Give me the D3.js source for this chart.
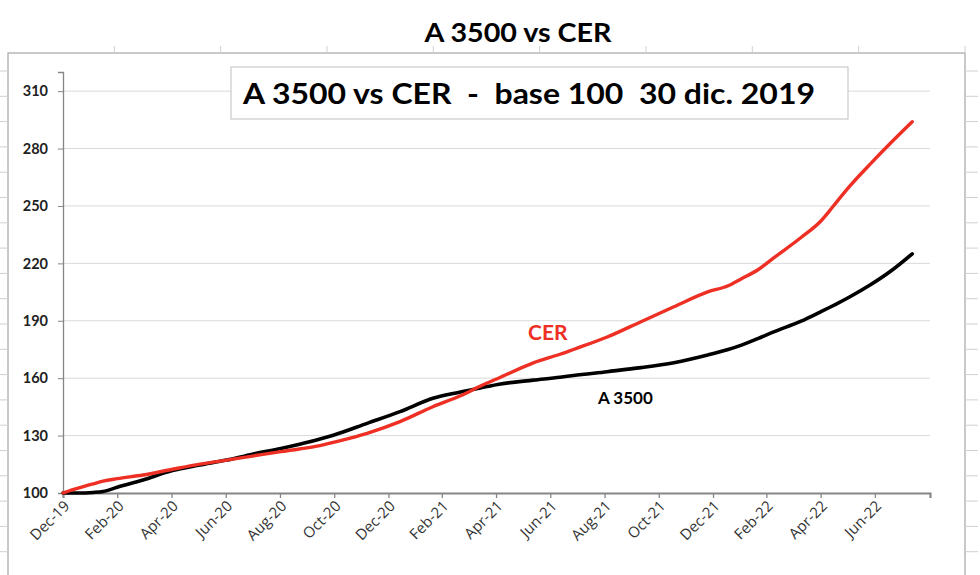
<!DOCTYPE html>
<html><head><meta charset="utf-8">
<script src="https://cdn.jsdelivr.net/npm/d3@7"></script>
<style>
html,body{margin:0;padding:0;background:#fff;}
svg{display:block;}
</style></head>
<body>
<svg id="c" width="980" height="575"></svg>
<script>
// ---- data ----
const dates = ["2019-12-30","2020-01-15","2020-02-02","2020-02-13","2020-02-29","2020-03-29","2020-05-01","2020-06-01","2020-07-01","2020-07-30","2020-08-31","2020-09-21","2020-10-14","2020-10-29","2020-12-06","2021-01-12","2021-02-18","2021-03-21","2021-04-12","2021-05-05","2021-06-11","2021-07-11","2021-07-26","2021-09-02","2021-10-10","2021-11-16","2021-12-24","2022-01-16","2022-01-31","2022-02-19","2022-03-09","2022-04-08","2022-04-30","2022-05-11","2022-05-17","2022-06-03","2022-06-25","2022-07-18","2022-08-11"];
const cer =   [100,102.4,104.8,106.2,107.5,109.4,112.4,115.1,117.2,119.3,121.6,123.0,124.8,126.5,131.2,137.3,145.1,150.8,155.8,160.5,168.0,172.5,175.0,181.5,189.5,197.3,205.1,208.3,212.0,216.8,223.1,233.5,242.0,248.0,251.5,261.0,272.0,283.0,294.0];
const a3500 = [100,100.0,100.3,100.8,103.0,106.8,111.7,114.6,117.2,120.3,123.3,125.5,128.2,130.2,136.4,142.5,149.5,152.8,154.9,157.0,159.0,160.5,161.4,163.4,165.5,168.1,172.1,175.0,177.3,180.8,184.3,189.8,194.7,197.2,198.6,202.8,208.8,216.0,225.0];
const tickDates = ["2019-12-30","2020-02-29","2020-04-30","2020-06-30","2020-08-30","2020-10-30","2020-12-30","2021-02-28","2021-04-30","2021-06-30","2021-08-30","2021-10-30","2021-12-30","2022-02-28","2022-04-30","2022-06-30","2022-08-31"];
const tickLabels = ["Dec-19","Feb-20","Apr-20","Jun-20","Aug-20","Oct-20","Dec-20","Feb-21","Apr-21","Jun-21","Aug-21","Oct-21","Dec-21","Feb-22","Apr-22","Jun-22",""];
const yTicks = [100,130,160,190,220,250,280,310];
const title = "A 3500 vs CER";
const boxTitle = "A 3500 vs CER  -  base 100  30 dic. 2019";
const seriesNames = ["CER","A 3500"];

// ---- drawing ----
const parse = d3.timeParse("%Y-%m-%d");
const svg = d3.select("#c");

// outer frame (surrounding chart)
const frame = svg.append("g");
frame.append("rect").attr("x",8).attr("y",53).attr("width",957).attr("height",540)
  .attr("fill","#fff").attr("stroke","#a6a6a6").attr("stroke-width",1.2);
const topTicks = d3.range(1,10).map(k=>8+k*106.33);
frame.selectAll(".tt").data(topTicks).join("line")
  .attr("x1",d=>d).attr("x2",d=>d).attr("y1",46).attr("y2",53)
  .attr("stroke","#d0d0d0");
const sideTicks = d3.range(0,20).map(k=>71+k*25.3);
frame.selectAll(".lt").data(sideTicks).join("line")
  .attr("x1",0).attr("x2",8).attr("y1",d=>d).attr("y2",d=>d).attr("stroke","#d0d0d0");
frame.selectAll(".rt").data(sideTicks).join("line")
  .attr("x1",965).attr("x2",978).attr("y1",d=>d).attr("y2",d=>d).attr("stroke","#d0d0d0");

svg.append("text").attr("x",518).attr("y",42).attr("text-anchor","middle")
  .attr("font-family","Lato, 'Open Sans', sans-serif").attr("font-weight",700)
  .attr("font-size",27).attr("textLength",187).attr("lengthAdjust","spacingAndGlyphs")
  .attr("fill","#000").text(title);

const x = d3.scaleTime().domain([parse("2019-12-30"), parse("2022-08-31")]).range([63,930]);
const y = d3.scaleLinear().domain([100,320]).range([493,72]);

// gridlines
svg.append("g").selectAll("line").data(yTicks.slice(1)).join("line")
  .attr("x1",63).attr("x2",930).attr("y1",d=>y(d)).attr("y2",d=>y(d))
  .attr("stroke","#d9d9d9").attr("stroke-width",1);

// y axis
const yAxis = svg.append("g").attr("transform","translate(63,0)")
  .call(d3.axisLeft(y).tickValues(yTicks).tickSize(5).tickPadding(10).tickFormat(d3.format("d")));
yAxis.select(".domain").attr("stroke","#868686").attr("stroke-width",1.3);
yAxis.selectAll(".tick line").attr("stroke","#868686");
yAxis.selectAll(".tick text").attr("font-family","Lato, sans-serif").attr("font-weight",700)
  .attr("font-size",14.5).attr("fill","#222");

// x axis
const xAxis = svg.append("g").attr("transform","translate(0,493)")
  .call(d3.axisBottom(x).tickValues(tickDates.map(parse)).tickSize(5)
    .tickFormat((d,i)=>tickLabels[i]));
xAxis.select(".domain").attr("stroke","#868686").attr("stroke-width",2);
xAxis.selectAll(".tick line").attr("stroke","#868686").attr("stroke-width",1.3);
xAxis.selectAll(".tick text")
  .style("font-family","'Open Sans', sans-serif").style("font-size","15px")
  .attr("fill","#333")
  .attr("text-anchor","end").attr("dy",0).attr("y",0)
  .attr("transform","translate(7,14) rotate(-45)");

// lines
const line = vals => d3.line().x((d,i)=>x(parse(dates[i]))).y(d=>y(d)).curve(d3.curveMonotoneX)(vals);
svg.append("path").attr("d",line(a3500)).attr("fill","none").attr("stroke","#000")
  .attr("stroke-width",3.6).attr("stroke-linejoin","round").attr("stroke-linecap","round");
svg.append("path").attr("d",line(cer)).attr("fill","none").attr("stroke","#ee2f24")
  .attr("stroke-width",3.4).attr("stroke-linejoin","round").attr("stroke-linecap","round");

// box title
svg.append("rect").attr("x",231).attr("y",67).attr("width",617).attr("height",52)
  .attr("fill","#fff").attr("stroke","#bfbfbf").attr("stroke-width",1);
svg.append("text").attr("x",243).attr("y",104).attr("xml:space","preserve")
  .style("white-space","pre")
  .attr("font-family","Lato, 'Open Sans', sans-serif").attr("font-weight",700)
  .attr("font-size",29).attr("textLength",572).attr("lengthAdjust","spacingAndGlyphs")
  .attr("fill","#000").text(boxTitle);

// series labels
svg.append("text").attr("x",528).attr("y",340).attr("font-family","Lato, sans-serif")
  .attr("font-weight",700).attr("font-size",21).attr("fill","#ee2f24").text(seriesNames[0]);
svg.append("text").attr("x",598).attr("y",404).attr("font-family","Lato, sans-serif")
  .attr("font-weight",700).attr("font-size",17).attr("fill","#000").text(seriesNames[1]);
</script>
</body></html>
